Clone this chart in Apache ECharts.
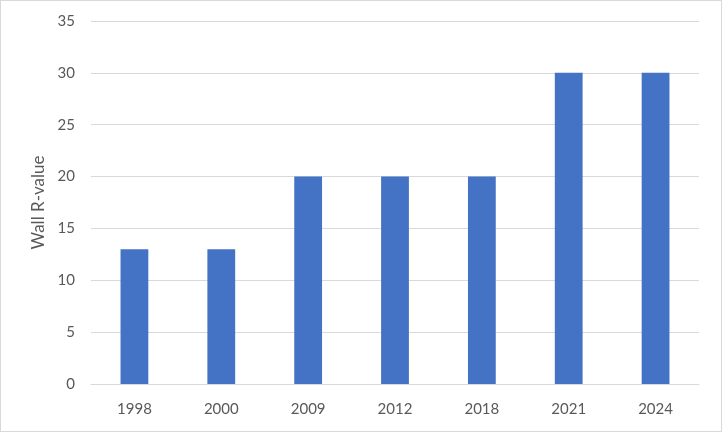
<!DOCTYPE html>
<html><head><meta charset="utf-8">
<script src="https://cdn.jsdelivr.net/npm/echarts@6/dist/echarts.min.js"></script>
<style>html,body{margin:0;padding:0;background:#fff;}#c{width:722px;height:432px;box-sizing:border-box;border:1px solid #d9d9d9;}</style>
</head><body><div id="c"></div>
<script>
const categories = ['1998','2000','2009','2012','2018','2021','2024'];
const rValues = [13,13,20,20,20,30,30];
const yTicks = {min:0, max:35, interval:5};
const FONT = 'Lato, "Open Sans", sans-serif';
const chart = echarts.init(document.getElementById('c'), null, {renderer:'canvas'});
chart.setOption({
  animation:false,
  grid:{left:90, right:22, top:20, bottom:47, containLabel:false},
  xAxis:{type:'category', data:categories,
    axisLine:{lineStyle:{color:'#d9d9d9', width:1}}, axisTick:{show:false},
    axisLabel:{color:'#595959', fontFamily:FONT, fontSize:15, margin:18}},
  yAxis:{type:'value', min:yTicks.min, max:yTicks.max, interval:yTicks.interval,
    name:'Wall R-value', nameLocation:'middle', nameGap:44, nameRotate:90,
    nameTextStyle:{color:'#595959', fontFamily:FONT, fontSize:17},
    axisLine:{show:false}, axisTick:{show:false},
    splitLine:{lineStyle:{color:'#d9d9d9', width:1}},
    axisLabel:{color:'#595959', fontFamily:FONT, fontSize:15, margin:16}},
  series:[{type:'bar', data:rValues, barWidth:'32%', itemStyle:{color:'#4472C4'}}]
});
</script></body></html>
